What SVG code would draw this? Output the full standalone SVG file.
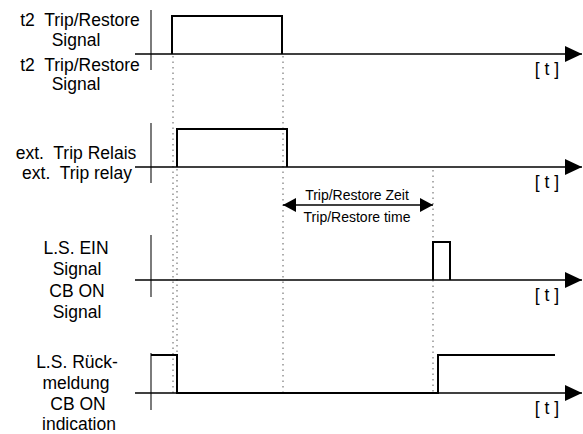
<svg xmlns="http://www.w3.org/2000/svg" width="583" height="434" viewBox="0 0 583 434">
<style>
text{font-family:"Liberation Sans",Arial,sans-serif;fill:#000;white-space:pre}
.lbl{font-size:17.5px;text-anchor:middle}
.t{font-size:17.5px;text-anchor:middle}
.small{font-size:14px;text-anchor:middle}
.axis{stroke:#000;stroke-width:1.5;fill:none}
.vax{stroke:#444;stroke-width:1.4;fill:none}
.sig{stroke:#000;stroke-width:2;fill:none;stroke-linejoin:miter}
.dot{stroke:#777;stroke-width:1.2;stroke-dasharray:1.5 4;fill:none}
</style>
<defs>
<marker id="tip" markerUnits="userSpaceOnUse" markerWidth="18" markerHeight="16" refX="17" refY="8" orient="auto">
<path d="M0,0 L17,8 L0,16 Z" fill="#000"/>
</marker>
<marker id="sm" markerUnits="userSpaceOnUse" markerWidth="14" markerHeight="14" refX="13" refY="7" orient="auto-start-reverse">
<path d="M0,0 L13,7 L0,14 Z" fill="#000"/>
</marker>
</defs>
<g id="connectors">
<line class="dot" x1="173" y1="56" x2="173" y2="393"/>
<line class="dot" x1="283" y1="56" x2="283" y2="393"/>
<line class="dot" x1="177" y1="169" x2="177" y2="393"/>
<line class="dot" x1="433" y1="170" x2="433" y2="393"/>
<line x1="283" y1="205" x2="433" y2="205" stroke="#000" stroke-width="1.5" marker-start="url(#sm)" marker-end="url(#sm)"/>
</g>
<g id="panel1">
<line class="vax" x1="151" y1="10" x2="151" y2="70"/>
<line class="axis" x1="135" y1="54" x2="582" y2="54" marker-end="url(#tip)"/>
<polyline class="sig" points="172,54 172,16 282,16 282,54"/>
<text class="lbl" x="80" y="26" xml:space="preserve">t2  Trip/Restore</text>
<text class="lbl" x="76" y="46">Signal</text>
<text class="lbl" x="80" y="71" xml:space="preserve">t2  Trip/Restore</text>
<text class="lbl" x="76" y="90">Signal</text>
<text class="t" x="547" y="75" xml:space="preserve">[ t ]</text>
</g>
<g id="panel2">
<line class="vax" x1="151" y1="123" x2="151" y2="183"/>
<line class="axis" x1="135" y1="167" x2="582" y2="167" marker-end="url(#tip)"/>
<polyline class="sig" points="177,167 177,129 287,129 287,167"/>
<text class="lbl" x="76" y="159" xml:space="preserve">ext.  Trip Relais</text>
<text class="lbl" x="77" y="179" xml:space="preserve">ext.  Trip relay</text>
<text class="t" x="547" y="188" xml:space="preserve">[ t ]</text>
</g>
<g id="timespan">
<text class="small" x="357" y="200">Trip/Restore Zeit</text>
<text class="small" x="357" y="222">Trip/Restore time</text>
</g>
<g id="panel3">
<line class="vax" x1="151" y1="235" x2="151" y2="297"/>
<line class="axis" x1="135" y1="280" x2="582" y2="280" marker-end="url(#tip)"/>
<polyline class="sig" points="433,280 433,242 450,242 450,280"/>
<text class="lbl" x="76" y="254">L.S. EIN</text>
<text class="lbl" x="77" y="275">Signal</text>
<text class="lbl" x="77" y="297">CB ON</text>
<text class="lbl" x="77" y="318">Signal</text>
<text class="t" x="547" y="301" xml:space="preserve">[ t ]</text>
</g>
<g id="panel4">
<line class="vax" x1="151" y1="353" x2="151" y2="410"/>
<line class="axis" x1="135" y1="393" x2="582" y2="393" marker-end="url(#tip)"/>
<polyline class="sig" points="151,355 177,355 177,393 438,393 438,355 555,355"/>
<text class="lbl" x="77" y="368">L.S. Rück-</text>
<text class="lbl" x="76" y="389">meldung</text>
<text class="lbl" x="78" y="410">CB ON</text>
<text class="lbl" x="79" y="430">indication</text>
<text class="t" x="547" y="414" xml:space="preserve">[ t ]</text>
</g>
</svg>
